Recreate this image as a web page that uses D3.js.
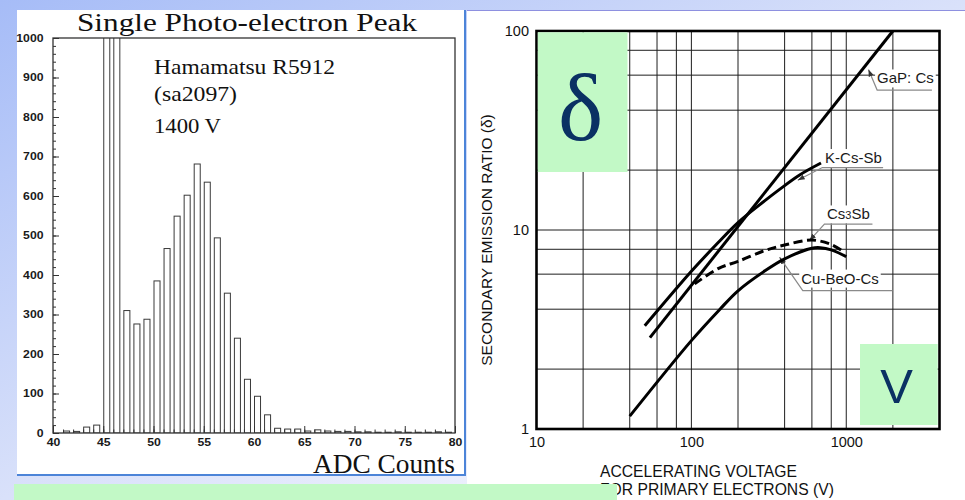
<!DOCTYPE html>
<html><head><meta charset="utf-8">
<script src="https://cdn.jsdelivr.net/npm/d3@7"></script>
<style>html,body{margin:0;padding:0;background:#fff;overflow:hidden}svg{display:block}</style>
</head><body>
<svg id="c" width="965" height="500"></svg>
<script>
// ---------- Left panel: single photo-electron histogram ----------
const adcBins   = [41,42,43,44,45,46,47,48,49,50,51,52,53,54,55,56,57,58,59,60,61,62,63,64,65,66,67,68,69,70,71,72,73,74,75,76,77,78,79];
const adcCounts = [5,4,15,20,1800,1600,310,276,288,385,467,549,602,681,635,494,354,240,136,93,46,12,10,10,5,8,5,4,4,3,3,2,2,3,2,2,2,3,2];
const adcTicks   = [40,45,50,55,60,65,70,75,80];
const countTicks = [0,100,200,300,400,500,600,700,800,900,1000];
const infoLines  = ["Hamamatsu R5912","(sa2097)","1400 V"];

// ---------- Right panel: secondary emission ratio ----------
const voltTicks  = [10,100,1000];
const ratioTicks = [1,10,100];
const gridVolts  = [20,40,60,80,100,200,400,600,800,1000,2000];
const gridRatios = [2,4,6,8,10,20,40,60,80];
const gapV = [54,2000],                                gapD = [2.88,100];
const kcsV = [50,100,149,200,297,371,500,687],         kcsD = [3.3,6.2,8.65,10.9,14.0,16.0,18.9,21.7];
const cs3V = [105,150,200,300,400,600,800,980],        cs3D = [5.36,6.42,6.95,7.9,8.4,8.9,8.45,7.7];
const cuV  = [40,100,153,200,300,400,600,680,800,1000], cuD = [1.16,2.78,4.0,4.95,6.25,7.16,8.1,8.15,7.95,7.35];
const labelNames = ["GaP: Cs","K-Cs-Sb","Cs3Sb","Cu-BeO-Cs"];
const labelAt    = [[1581,54.5],[730,21.7],[751,11.3],[512,5.38]];
const labelTip   = [[1391,64],[486,17.8],[578,8.85],[371,7.3]];
const labelElbow = [[1583,50.5],[701,20.6],[723,10.7],[524,4.96]];
const labelEnd   = [[3573,50.5],[1730,20.6],[1476,10.7],[1986,4.96]];

const W = 965, H = 500;
const svg = d3.select("#c");
const defs = svg.append("defs");
const bg = defs.append("linearGradient").attr("id","bg").attr("x1",0).attr("y1",0).attr("x2",1).attr("y2",1);
bg.append("stop").attr("offset",0).attr("stop-color","#a6bcf7");
bg.append("stop").attr("offset",0.5).attr("stop-color","#d9e1fa");
bg.append("stop").attr("offset",1).attr("stop-color","#ffffff");
defs.append("clipPath").attr("id","clipL").append("rect").attr("x",53).attr("y",38).attr("width",402).attr("height",395);
defs.append("marker").attr("id","arr").attr("viewBox","0 -4 8 8").attr("refX",8).attr("refY",0)
  .attr("markerUnits","userSpaceOnUse").attr("markerWidth",7).attr("markerHeight",7).attr("orient","auto")
  .append("path").attr("d","M0,-3L8,0L0,3Z").attr("fill","#333");

svg.append("rect").attr("width",W).attr("height",H).attr("fill","url(#bg)");
svg.append("rect").attr("x",17).attr("y",10).attr("width",448).attr("height",465).attr("fill","#fff");
svg.append("rect").attr("x",467).attr("y",10).attr("width",498).attr("height",490).attr("fill","#fff");
svg.append("line").attr("x1",467).attr("x2",965).attr("y1",10.5).attr("y2",10.5).attr("stroke","#8e90e0").attr("stroke-width",1);
svg.append("line").attr("x1",465).attr("x2",465).attr("y1",10).attr("y2",476).attr("stroke","#4c84d8").attr("stroke-width",2);
svg.append("line").attr("x1",17).attr("x2",466).attr("y1",475).attr("y2",475).attr("stroke","#4c84d8").attr("stroke-width",2);

// ---------- Left chart ----------
const gL = svg.append("g");
const xL = d3.scaleLinear().domain([40,80]).range([53,455]);
const yL = d3.scaleLinear().domain([0,1000]).range([433,38]);

gL.append("g").attr("clip-path","url(#clipL)").selectAll("rect").data(adcBins).join("rect")
  .attr("x", d => xL(d)+0.5)
  .attr("width", d => xL(d+0.6)-xL(d))
  .attr("y", (d,i) => yL(adcCounts[i]))
  .attr("height", (d,i) => yL(0)-yL(adcCounts[i]))
  .attr("fill","#fff").attr("stroke","#3a3a3a").attr("stroke-width",1);

function styleL(g){
  g.select(".domain").remove();
  g.selectAll("line").attr("stroke","#333").attr("stroke-width",1);
  g.selectAll("text").attr("font-family","Liberation Sans").attr("font-weight","bold").attr("font-size",10).attr("fill","#1a1a1a")
   .attr("textLength", function(){return this.textContent.length*6.8;}).attr("lengthAdjust","spacingAndGlyphs");
}
gL.append("g").attr("transform","translate(53,0)").call(d3.axisLeft(yL).tickValues(d3.range(0,1001,20)).tickSize(-3).tickFormat("")).call(styleL);
gL.append("g").attr("transform","translate(53,0)").call(d3.axisLeft(yL).tickValues(countTicks).tickFormat(d3.format("d")).tickSize(-6).tickPadding(9.5)).call(styleL);
gL.append("g").attr("transform","translate(0,433)").call(d3.axisBottom(xL).tickValues(d3.range(40,81,1)).tickSize(-3.5).tickFormat("")).call(styleL);
gL.append("g").attr("transform","translate(0,433)").call(d3.axisBottom(xL).tickValues(adcTicks).tickFormat(d3.format("d")).tickSize(-7).tickPadding(6)).call(styleL);
gL.append("rect").attr("x",53).attr("y",38).attr("width",402).attr("height",395).attr("fill","none").attr("stroke","#333").attr("stroke-width",1.3);

gL.append("text").attr("x",77).attr("y",30.5).attr("font-family","Liberation Serif").attr("font-size",26).attr("fill","#111")
  .attr("textLength",340).attr("lengthAdjust","spacingAndGlyphs").text("Single Photo-electron Peak");
const infoY = [74,100.5,133], infoLen=[181,83,67], infoSize=[21,21,22];
infoLines.forEach((t,i)=>{
  gL.append("text").attr("x",154).attr("y",infoY[i]).attr("font-family","Liberation Serif").attr("font-size",infoSize[i]).attr("fill","#111")
    .attr("textLength",infoLen[i]).attr("lengthAdjust","spacingAndGlyphs").text(t);
});
gL.append("text").attr("x",313).attr("y",473).attr("font-family","Liberation Serif").attr("font-size",27).attr("fill","#111")
  .attr("textLength",142).attr("lengthAdjust","spacingAndGlyphs").text("ADC Counts");

// ---------- Right chart ----------
const gR = svg.append("g");
const xR = d3.scaleLog().domain([10,4000]).range([536.5,939.5]);
const yR = d3.scaleLog().domain([1,100]).range([429,31]);

gR.append("g").selectAll("line").data(gridVolts).join("line")
  .attr("x1",d=>xR(d)).attr("x2",d=>xR(d)).attr("y1",31).attr("y2",429).attr("stroke","#1e1e1e").attr("stroke-width",1);
gR.append("g").selectAll("line").data(gridRatios).join("line")
  .attr("y1",d=>yR(d)).attr("y2",d=>yR(d)).attr("x1",536.5).attr("x2",939.5).attr("stroke","#1e1e1e").attr("stroke-width",1);

// labels with white backing
labelNames.forEach((name,i)=>{
  const g = gR.append("g");
  const t = g.append("text").attr("x",xR(labelAt[i][0])).attr("y",yR(labelAt[i][1]))
    .attr("font-family","Liberation Sans").attr("font-size",15).attr("fill","#1a1a1a");
  if(name==="Cs3Sb"){ t.append("tspan").text("Cs"); t.append("tspan").attr("font-size",11).text("3"); t.append("tspan").text("Sb"); }
  else t.text(name);
  const b = t.node().getBBox();
  g.insert("rect","text").attr("x",b.x-2).attr("y",b.y).attr("width",b.width+4).attr("height",b.height+1).attr("fill","#fff");
  const pts = [labelEnd[i],labelElbow[i],labelTip[i]].map(p=>[xR(p[0]),yR(p[1])]);
  gR.append("path").attr("d",d3.line()(pts)).attr("fill","none").attr("stroke","#8a8a8a").attr("stroke-width",1.2).attr("marker-end","url(#arr)");
});

const lineR = d3.line().x(d=>xR(d[0])).y(d=>yR(d[1])).curve(d3.curveCatmullRom.alpha(0.5));
const series = [
  {v:gapV,d:gapD,dash:null},
  {v:kcsV,d:kcsD,dash:null},
  {v:cs3V,d:cs3D,dash:"9 4.5"},
  {v:cuV, d:cuD, dash:null}
];
series.forEach(s=>{
  gR.append("path").attr("d",lineR(s.v.map((v,i)=>[v,s.d[i]]))).attr("fill","none").attr("stroke","#000")
    .attr("stroke-width",3).attr("stroke-dasharray",s.dash);
});
gR.append("rect").attr("x",536.5).attr("y",31).attr("width",403).attr("height",398).attr("fill","none").attr("stroke","#000").attr("stroke-width",2.6);

function styleR(g){
  g.select(".domain").remove();
  g.selectAll("text").attr("font-family","Liberation Sans").attr("font-size",14.5).attr("fill","#111");
}
gR.append("g").attr("transform","translate(0,429)").call(d3.axisBottom(xR).tickValues(voltTicks).tickFormat(d3.format("d")).tickSize(0).tickPadding(7.3)).call(styleR);
gR.append("g").attr("transform","translate(536.5,0)").call(d3.axisLeft(yR).tickValues(ratioTicks).tickFormat(d3.format("d")).tickSize(0).tickPadding(7.5)).call(styleR);

gR.append("text").attr("transform","translate(492,240) rotate(-90)").attr("text-anchor","middle")
  .attr("font-family","Liberation Sans").attr("font-size",15.5).attr("fill","#111").text("SECONDARY EMISSION RATIO (δ)");
gR.append("text").attr("x",600).attr("y",476.7).attr("font-family","Liberation Sans").attr("font-size",15.7).attr("fill","#111").text("ACCELERATING VOLTAGE");
gR.append("text").attr("x",600).attr("y",495.3).attr("font-family","Liberation Sans").attr("font-size",15.7).attr("fill","#111").text("FOR PRIMARY ELECTRONS (V)");

// green overlay boxes
const green = "#c2f9c6", navy = "#0a3163";
svg.append("rect").attr("x",537.8).attr("y",32.3).attr("width",89.7).attr("height",139.7).attr("fill",green);
svg.append("text").attr("x",580.5).attr("y",140).attr("text-anchor","middle").attr("font-family","Liberation Serif").attr("font-size",96).attr("fill",navy).text("δ");
svg.append("rect").attr("x",860).attr("y",344).attr("width",77.7).attr("height",81).attr("fill",green);
svg.append("text").attr("x",896.5).attr("y",403.3).attr("text-anchor","middle").attr("font-family","Liberation Sans").attr("font-size",49).attr("fill",navy).text("V");
svg.append("rect").attr("x",14).attr("y",484).attr("width",603).attr("height",16).attr("fill",green);
</script>
</body></html>
